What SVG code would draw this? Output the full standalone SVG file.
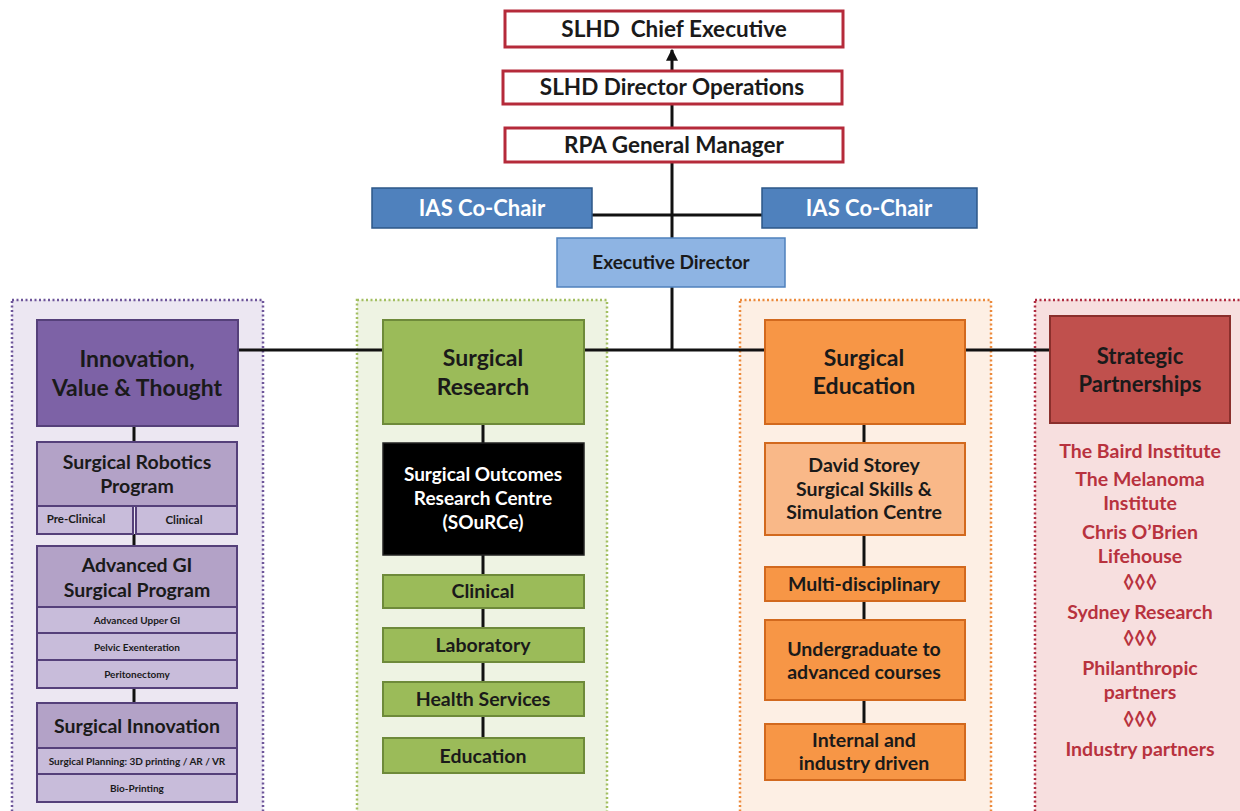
<svg xmlns="http://www.w3.org/2000/svg" width="1240" height="811" viewBox="0 0 1240 811">
  <defs>
    <style>
      text { font-family: Lato, "Open Sans", "Liberation Sans", sans-serif; font-weight: bold; text-anchor: middle; fill: #1a1a1a; }
      .top rect { fill: #ffffff; stroke: #b52a3a; stroke-width: 3; }
      .top text { font-size: 22.5px; }
      .cochair rect { fill: #4f81bd; stroke: #2d5788; stroke-width: 1.5; }
      .cochair text { font-size: 22px; fill: #ffffff; }
      .panel { stroke-width: 2.5; stroke-dasharray: 2 2.5; }
      .conn line { stroke: #111111; stroke-width: 3; }
      .pHead { fill: #7d62a6; stroke: #55407a; stroke-width: 2; }
      .pSub { fill: #b3a2c7; stroke: #55407a; stroke-width: 2; }
      .pRow { fill: #c8bcda; stroke: #55407a; stroke-width: 2; }
      .gBox { fill: #9bbb59; stroke: #6e8a3a; stroke-width: 2; }
      .oBox { fill: #f79646; stroke: #d2691e; stroke-width: 2; }
      .oLight { fill: #f9b888; stroke: #d2691e; stroke-width: 2; }
      .rBox { fill: #c0504d; stroke: #8a2f2c; stroke-width: 2; }
      .red { fill: #b8323e; font-size: 19.5px; }
      .big { font-size: 23px; }
      .mid { font-size: 19.5px; }
      .tiny { font-size: 10px; }
      .small { font-size: 11.5px; }
      .white { fill: #ffffff; font-size: 19px; }
    </style>
    <marker id="arrowUp" viewBox="0 0 10 10" refX="9" refY="5" markerWidth="4" markerHeight="4" orient="auto">
      <path d="M0,0 L10,5 L0,10 z" fill="#111111"/>
    </marker>
  </defs>

  <rect width="1240" height="811" fill="#ffffff"/>

  <!-- dotted background panels -->
  <g id="panels">
    <rect class="panel" x="12" y="300" width="251" height="520" fill="#ece7f2" stroke="#6e569a"/>
    <rect class="panel" x="357" y="300" width="250" height="520" fill="#eef3e3" stroke="#a3bf62"/>
    <rect class="panel" x="740" y="300" width="251" height="520" fill="#fdefe4" stroke="#ec8a3c"/>
    <rect class="panel" x="1035" y="300" width="215" height="520" fill="#f7dfdf" stroke="#b02c40"/>
  </g>

  <!-- connectors -->
  <g id="connectors" class="conn">
    <line x1="672" y1="71" x2="672" y2="50" marker-end="url(#arrowUp)"/>
    <line x1="672" y1="104" x2="672" y2="128"/>
    <line x1="672" y1="162" x2="672" y2="238"/>
    <line x1="592" y1="215" x2="762" y2="215"/>
    <line x1="672" y1="287" x2="672" y2="350"/>
    <line x1="238" y1="350" x2="383" y2="350"/>
    <line x1="584" y1="350" x2="765" y2="350"/>
    <line x1="965" y1="350" x2="1050" y2="350"/>
    <line x1="134" y1="426" x2="134" y2="442"/>
    <line x1="134" y1="534" x2="134" y2="546"/>
    <line x1="134" y1="688" x2="134" y2="703"/>
    <line x1="483" y1="424" x2="483" y2="443"/>
    <line x1="483" y1="555" x2="483" y2="575"/>
    <line x1="483" y1="608" x2="483" y2="628"/>
    <line x1="483" y1="662" x2="483" y2="682"/>
    <line x1="483" y1="716" x2="483" y2="738"/>
    <line x1="864" y1="424" x2="864" y2="443"/>
    <line x1="864" y1="535" x2="864" y2="567"/>
    <line x1="864" y1="601" x2="864" y2="620"/>
    <line x1="864" y1="700" x2="864" y2="724"/>
  </g>

  <!-- top management chain -->
  <g id="chief-executive" class="top">
    <rect x="505" y="11" width="338" height="36"/>
    <text x="674" y="37" xml:space="preserve">SLHD  Chief Executive</text>
  </g>
  <g id="director-operations" class="top">
    <rect x="503" y="71" width="339" height="33"/>
    <text x="672" y="95">SLHD Director Operations</text>
  </g>
  <g id="rpa-general-manager" class="top">
    <rect x="505" y="128" width="338" height="34"/>
    <text x="674" y="153">RPA General Manager</text>
  </g>

  <g id="ias-cochair-left" class="cochair">
    <rect x="372" y="188" width="220" height="40"/>
    <text x="482" y="216">IAS Co-Chair</text>
  </g>
  <g id="ias-cochair-right" class="cochair">
    <rect x="762" y="188" width="215" height="40"/>
    <text x="869" y="216">IAS Co-Chair</text>
  </g>

  <g id="executive-director">
    <rect x="557" y="238" width="228" height="49" fill="#8eb4e3" stroke="#4f81bd" stroke-width="1.5"/>
    <text x="671" y="269" font-size="19">Executive Director</text>
  </g>

  <!-- Innovation, Value & Thought -->
  <g id="innovation-value-thought">
    <rect class="pHead" x="37" y="320" width="201" height="106"/>
    <text class="big" x="137" y="367">Innovation,</text>
    <text class="big" x="137" y="396">Value &amp; Thought</text>
  </g>
  <g id="surgical-robotics">
    <rect class="pSub" x="37" y="442" width="200" height="64"/>
    <text class="mid" x="137" y="469">Surgical Robotics</text>
    <text class="mid" x="137" y="493">Program</text>
    <rect class="pRow" x="37" y="506" width="96" height="28"/>
    <text class="small" x="76" y="523">Pre-Clinical</text>
    <rect class="pRow" x="136" y="506" width="101" height="28"/>
    <text class="small" x="184" y="524">Clinical</text>
  </g>
  <g id="advanced-gi">
    <rect class="pSub" x="37" y="546" width="200" height="61"/>
    <text class="mid" x="137" y="572">Advanced GI</text>
    <text class="mid" x="137" y="597">Surgical Program</text>
    <rect class="pRow" x="37" y="607" width="200" height="26"/>
    <text class="tiny" x="137" y="624">Advanced Upper GI</text>
    <rect class="pRow" x="37" y="633" width="200" height="27"/>
    <text class="tiny" x="137" y="651">Pelvic Exenteration</text>
    <rect class="pRow" x="37" y="660" width="200" height="28"/>
    <text class="tiny" x="137" y="678">Peritonectomy</text>
  </g>
  <g id="surgical-innovation">
    <rect class="pSub" x="37" y="703" width="200" height="45"/>
    <text class="mid" x="137" y="733">Surgical Innovation</text>
    <rect class="pRow" x="37" y="748" width="200" height="26"/>
    <text class="tiny" x="137" y="765">Surgical Planning: 3D printing / AR / VR</text>
    <rect class="pRow" x="37" y="774" width="200" height="28"/>
    <text class="tiny" x="137" y="792">Bio-Printing</text>
  </g>

  <!-- Surgical Research -->
  <g id="surgical-research">
    <rect class="gBox" x="383" y="320" width="201" height="104"/>
    <text class="big" x="483" y="366">Surgical</text>
    <text class="big" x="483" y="395">Research</text>
  </g>
  <g id="source">
    <rect x="383" y="443" width="201" height="112" fill="#000000" stroke="#222222" stroke-width="1.5"/>
    <text class="white" x="483" y="481">Surgical Outcomes</text>
    <text class="white" x="483" y="505">Research Centre</text>
    <text class="white" x="483" y="529">(SOuRCe)</text>
  </g>
  <g id="research-clinical">
    <rect class="gBox" x="383" y="575" width="201" height="33"/>
    <text class="mid" x="483" y="598">Clinical</text>
  </g>
  <g id="research-laboratory">
    <rect class="gBox" x="383" y="628" width="201" height="34"/>
    <text class="mid" x="483" y="652">Laboratory</text>
  </g>
  <g id="research-health-services">
    <rect class="gBox" x="383" y="682" width="201" height="34"/>
    <text class="mid" x="483" y="706">Health Services</text>
  </g>
  <g id="research-education">
    <rect class="gBox" x="383" y="738" width="201" height="35"/>
    <text class="mid" x="483" y="763">Education</text>
  </g>

  <!-- Surgical Education -->
  <g id="surgical-education">
    <rect class="oBox" x="765" y="320" width="200" height="104"/>
    <text class="big" x="864" y="366">Surgical</text>
    <text class="big" x="864" y="394">Education</text>
  </g>
  <g id="david-storey-centre">
    <rect class="oLight" x="765" y="443" width="200" height="92"/>
    <text class="mid" x="864" y="472">David Storey</text>
    <text class="mid" x="864" y="496">Surgical Skills &amp;</text>
    <text class="mid" x="864" y="519">Simulation Centre</text>
  </g>
  <g id="multi-disciplinary">
    <rect class="oBox" x="765" y="567" width="200" height="34"/>
    <text class="mid" x="864" y="591">Multi-disciplinary</text>
  </g>
  <g id="undergraduate-courses">
    <rect class="oBox" x="765" y="620" width="200" height="80"/>
    <text class="mid" x="864" y="656">Undergraduate to</text>
    <text class="mid" x="864" y="679">advanced courses</text>
  </g>
  <g id="internal-industry">
    <rect class="oBox" x="765" y="724" width="200" height="56"/>
    <text class="mid" x="864" y="747">Internal and</text>
    <text class="mid" x="864" y="770">industry driven</text>
  </g>

  <!-- Strategic Partnerships -->
  <g id="strategic-partnerships">
    <rect class="rBox" x="1050" y="316" width="180" height="107"/>
    <text x="1140" y="364" font-size="22">Strategic</text>
    <text x="1140" y="392" font-size="22">Partnerships</text>
  </g>
  <g id="partner-list">
    <text class="red" x="1140" y="458">The Baird Institute</text>
    <text class="red" x="1140" y="486">The Melanoma</text>
    <text class="red" x="1140" y="510">Institute</text>
    <text class="red" x="1140" y="539">Chris O’Brien</text>
    <text class="red" x="1140" y="563">Lifehouse</text>
    <text class="red" x="1140" y="589">◊◊◊</text>
    <text class="red" x="1140" y="619">Sydney Research</text>
    <text class="red" x="1140" y="645">◊◊◊</text>
    <text class="red" x="1140" y="675">Philanthropic</text>
    <text class="red" x="1140" y="699">partners</text>
    <text class="red" x="1140" y="726">◊◊◊</text>
    <text class="red" x="1140" y="756">Industry partners</text>
  </g>
</svg>
